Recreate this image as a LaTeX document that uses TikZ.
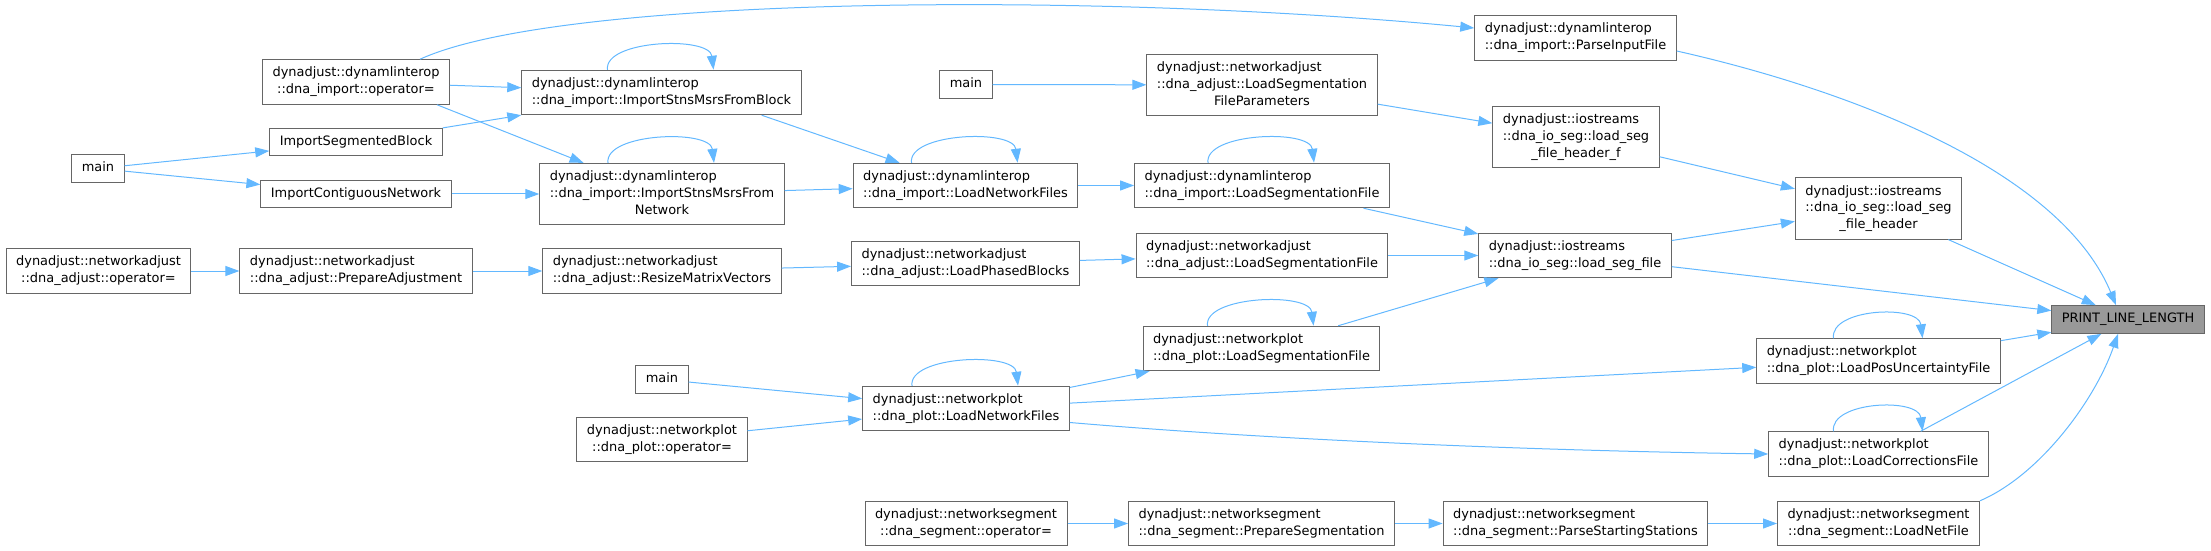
\documentclass[tikz,border=0pt]{standalone}
\usepackage{fontspec}
\setmainfont{DejaVu Sans}
\usetikzlibrary{arrows.meta}

\definecolor{edgeblue}{HTML}{63B8FF}
\definecolor{boxgray}{HTML}{666666}
\definecolor{selfgray}{HTML}{999999}

% one-line and multi-line function labels (last line centred, as doxygen does)
\newcommand{\fnone}[1]{\begin{tabular}{@{}c@{}}#1\end{tabular}}
\newcommand{\fntwo}[2]{\begin{tabular}{@{}l@{}}#1\\\multicolumn{1}{@{}c@{}}{#2}\end{tabular}}

\tikzset{
  fnbox/.style={draw=boxgray, line width=1bp, fill=white, inner xsep=10bp, inner ysep=5.5bp,
    font=\fontsize{13}{16.8}\selectfont},
  callarrow/.style={draw=edgeblue, line width=1bp, -{Triangle[length=14bp,width=10bp]}},
}

\begin{document}
\begin{tikzpicture}[x=1bp, y=-1bp]
    \useasboundingbox (0,0) rectangle (2211,551);

    % column 1
    \node[fnbox] (mainl) at (98,168.5) {\fnone{main}};
    \node[fnbox] (adjop) at (98.5,271) {\fntwo{dynadjust::networkadjust}{::dna\_adjust::operator=}};

    % column 2
    \node[fnbox] (dynop) at (356,82) {\fntwo{dynadjust::dynamlinterop}{::dna\_import::operator=}};
    \node[fnbox] (isegb) at (356,142) {\fnone{ImportSegmentedBlock}};
    \node[fnbox] (icontig) at (356,194) {\fnone{ImportContiguousNetwork}};
    \node[fnbox] (prepadj) at (356,271) {\fntwo{dynadjust::networkadjust}{::dna\_adjust::PrepareAdjustment}};

    % column 3
    \node[fnbox] (isfblock) at (661.5,92.5) {\fntwo{dynadjust::dynamlinterop}{::dna\_import::ImportStnsMsrsFromBlock}};
    \node[fnbox] (isfnet) at (662,194) {\fntwo{dynadjust::dynamlinterop\\::dna\_import::ImportStnsMsrsFrom}{Network}};
    \node[fnbox] (resize) at (662,271) {\fntwo{dynadjust::networkadjust}{::dna\_adjust::ResizeMatrixVectors}};
    \node[fnbox] (mainplot) at (662,379.5) {\fnone{main}};
    \node[fnbox] (plotop) at (662,439.5) {\fntwo{dynadjust::networkplot}{::dna\_plot::operator=}};

    % column 4
    \node[fnbox] (maintop) at (966,84.5) {\fnone{main}};
    \node[fnbox] (dlnf) at (965.5,185.5) {\fntwo{dynadjust::dynamlinterop}{::dna\_import::LoadNetworkFiles}};
    \node[fnbox] (lpb) at (965.5,263.5) {\fntwo{dynadjust::networkadjust}{::dna\_adjust::LoadPhasedBlocks}};
    \node[fnbox] (plnf) at (966,408.5) {\fntwo{dynadjust::networkplot}{::dna\_plot::LoadNetworkFiles}};
    \node[fnbox] (segop) at (966,523.5) {\fntwo{dynadjust::networksegment}{::dna\_segment::operator=}};

    % column 5
    \node[fnbox] (lsfp) at (1262,85) {\fntwo{dynadjust::networkadjust\\::dna\_adjust::LoadSegmentation}{FileParameters}};
    \node[fnbox] (dlsf) at (1262,185.5) {\fntwo{dynadjust::dynamlinterop}{::dna\_import::LoadSegmentationFile}};
    \node[fnbox] (alsf) at (1262,255.5) {\fntwo{dynadjust::networkadjust}{::dna\_adjust::LoadSegmentationFile}};
    \node[fnbox] (plsf) at (1261.5,348.5) {\fntwo{dynadjust::networkplot}{::dna\_plot::LoadSegmentationFile}};
    \node[fnbox] (prepseg) at (1261.5,523.5) {\fntwo{dynadjust::networksegment}{::dna\_segment::PrepareSegmentation}};

    % column 6
    \node[fnbox] (pif) at (1575.5,38) {\fntwo{dynadjust::dynamlinterop}{::dna\_import::ParseInputFile}};
    \node[fnbox] (lshf) at (1576,137) {\fntwo{dynadjust::iostreams\\::dna\_io\_seg::load\_seg}{\_file\_header\_f}};
    \node[fnbox] (lsf) at (1575,255.5) {\fntwo{dynadjust::iostreams}{::dna\_io\_seg::load\_seg\_file}};
    \node[fnbox] (parsess) at (1575.5,523.5) {\fntwo{dynadjust::networksegment}{::dna\_segment::ParseStartingStations}};

    % column 7
    \node[fnbox] (lsh) at (1878.5,208.5) {\fntwo{dynadjust::iostreams\\::dna\_io\_seg::load\_seg}{\_file\_header}};
    \node[fnbox] (plpu) at (1878.5,361) {\fntwo{dynadjust::networkplot}{::dna\_plot::LoadPosUncertaintyFile}};
    \node[fnbox] (plcf) at (1878.5,454) {\fntwo{dynadjust::networkplot}{::dna\_plot::LoadCorrectionsFile}};
    \node[fnbox] (lnf) at (1878.5,523.5) {\fntwo{dynadjust::networksegment}{::dna\_segment::LoadNetFile}};

    \node[fnbox, fill=selfgray] (pll) at (2128,319.5) {\fnone{PRINT\_LINE\_LENGTH}};

    % calls
    \draw[callarrow] (mainl) -- (isegb);
    \draw[callarrow] (mainl) -- (icontig);
    \draw[callarrow] (dynop) -- (isfblock);
    \draw[callarrow] ([xshift=-13bp]dynop.south east) -- (isfnet);
    \draw[callarrow] (isegb) -- (isfblock);
    \draw[callarrow] (icontig) -- (isfnet);
    \draw[callarrow] ([xshift=-40bp]isfblock.south east) -- (dlnf);
    \draw[callarrow] (isfnet) -- (dlnf);
    \draw[callarrow] (adjop) -- (prepadj);
    \draw[callarrow] (prepadj) -- (resize);
    \draw[callarrow] (resize) -- (lpb);
    \draw[callarrow] (maintop) -- (lsfp);
    \draw[callarrow] (dlnf) -- (dlsf);
    \draw[callarrow] (lpb) -- (alsf);
    \draw[callarrow] (mainplot) -- (plnf);
    \draw[callarrow] (plotop) -- (plnf);
    \draw[callarrow] (plnf) -- (plsf);
    \draw[callarrow] (plnf) -- (plpu);
    \draw[callarrow] ([yshift=-14bp]plnf.east) .. controls (1250,438) and (1500,450) .. (plcf.west);
    \draw[callarrow] (segop) -- (prepseg);
    \draw[callarrow] (prepseg) -- (parsess);
    \draw[callarrow] (parsess) -- (lnf);
    \draw[callarrow] (lsfp) -- (lshf);
    \draw[callarrow] (dlsf) -- (lsf);
    \draw[callarrow] (alsf) -- (lsf);
    \draw[callarrow] (plsf) -- (lsf);
    \draw[callarrow] (lshf) -- (lsh);
    \draw[callarrow] (lsf) -- (lsh);
    \draw[callarrow] (lsf) -- (pll);
    \draw[callarrow] (lsh) -- (pll);
    \draw[callarrow] (plpu) -- (pll);
    \draw[callarrow] (plcf) -- (pll);
    \draw[callarrow] ([xshift=-30bp]dynop.north east) .. controls (560,-5) and (1100,-8) .. ([yshift=10bp]pif.west);
    \draw[callarrow] ([yshift=-13bp]pif.east) .. controls (1850,90) and (2060,170) .. ([xshift=-12bp]pll.north);
    \draw[callarrow] (lnf.north east) .. controls (2040,475) and (2095,400) .. ([xshift=-10bp]pll.south);

    % recursive calls
    \foreach \n in {isfblock,isfnet,dlnf,dlsf,plsf,plnf}
      \draw[callarrow] ([xshift=-54bp]\n.north) .. controls +(-4,-30) and +(-4,-34) .. ([xshift=52bp]\n.north);
    \foreach \n in {plpu,plcf}
      \draw[callarrow] ([xshift=-45bp]\n.north) .. controls +(-4,-30) and +(-4,-34) .. ([xshift=44bp]\n.north);
\end{tikzpicture}
\end{document}
